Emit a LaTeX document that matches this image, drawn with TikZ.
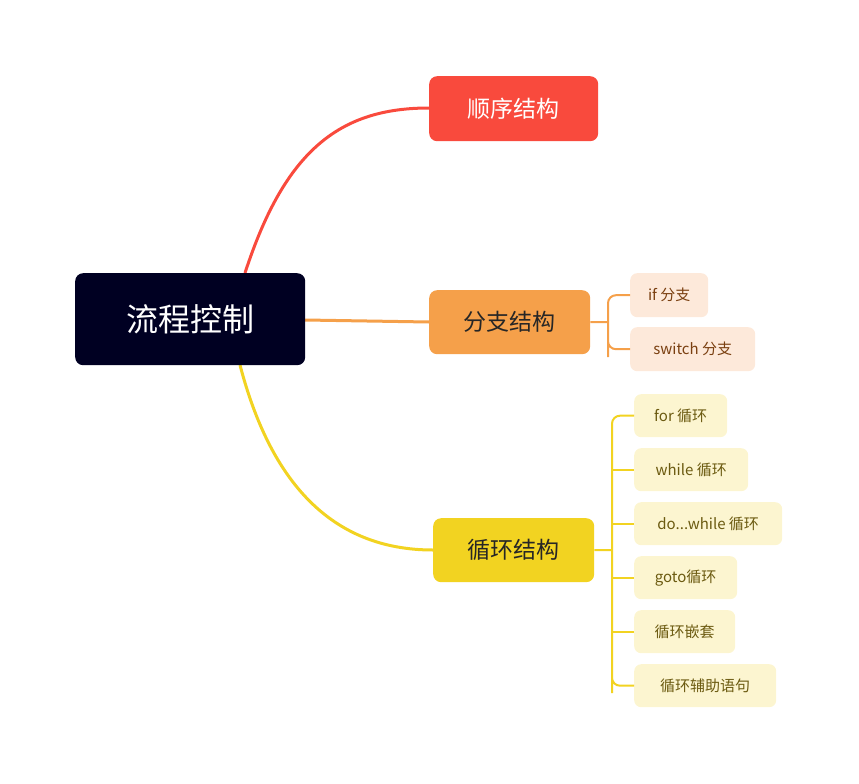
\documentclass[tikz,border=0pt]{standalone}
\usepackage{fontspec}
\setmainfont{Noto Sans CJK SC}
\begin{document}
\begin{tikzpicture}[x=1pt,y=-1pt,
  box/.style={rounded corners=8pt,inner sep=0pt,anchor=north west},
  leafo/.style={box,fill=leafO,text=txtO,font=\fontsize{15}{18}\selectfont,rounded corners=7pt},
  leafy/.style={box,fill=leafY,text=txtY,font=\fontsize{15}{18}\selectfont,rounded corners=7pt}]
\definecolor{rootc}{HTML}{000022}
\definecolor{redc}{HTML}{F94A3D}
\definecolor{orc}{HTML}{F5A04A}
\definecolor{yec}{HTML}{F2D321}
\definecolor{leafO}{HTML}{FDE9DA}
\definecolor{leafY}{HTML}{FCF5D0}
\definecolor{txtO}{HTML}{7A3F10}
\definecolor{txtY}{HTML}{6B5A10}
\useasboundingbox (0,0) rectangle (859,784);
% connectors (drawn first)
\coordinate (rt) at (245,273);
\coordinate (rb) at (240,365);
\draw[redc,line width=3pt] (rt) .. controls (285,150) and (340,108) .. (429,108);
\draw[orc,line width=3pt] (305,320) -- (429,322);
\draw[yec,line width=3pt] (rb) .. controls (270,480) and (330,550) .. (433,550);
% nodes
\node[box,fill=rootc,text=white,minimum width=230pt,minimum height=92pt,font=\fontsize{32}{36}\selectfont] (root) at (75,273) {流程控制};
\node[box,fill=redc,text=white,minimum width=169pt,minimum height=65pt,font=\fontsize{23}{28}\selectfont] (s) at (429,76) {顺序结构};
\node[box,fill=orc,text=black!85,minimum width=161pt,minimum height=64pt,font=\fontsize{23}{28}\selectfont] (b) at (429,290) {分支结构};
\node[box,fill=yec,text=black!85,minimum width=161pt,minimum height=64pt,font=\fontsize{23}{28}\selectfont] (l) at (433,518) {循环结构};
\node[leafo,minimum width=78pt,minimum height=44pt] (b1) at (630,273) {if 分支};
\node[leafo,minimum width=125pt,minimum height=44pt] (b2) at (630,327) {switch 分支};
\node[leafy,minimum width=93pt,minimum height=43pt] (l1) at (634,394) {for 循环};
\node[leafy,minimum width=114pt,minimum height=43pt] (l2) at (634,448) {while 循环};
\node[leafy,minimum width=148pt,minimum height=43pt] (l3) at (634,502) {do...while 循环};
\node[leafy,minimum width=103pt,minimum height=43pt] (l4) at (634,556) {goto循环};
\node[leafy,minimum width=101pt,minimum height=43pt] (l5) at (634,610) {循环嵌套};
\node[leafy,minimum width=142pt,minimum height=43pt] (l6) at (634,664) {循环辅助语句};
% brackets
\draw[orc,line width=2pt] (b.east) -- (608,322);
\draw[orc,line width=2pt,rounded corners=8pt] (b1.west) -| (608,349) |- (b2.west);
\draw[yec,line width=2pt] (l.east) -- (612,550);
\draw[yec,line width=2pt,rounded corners=8pt] (l1.west) -| (612,685) |- (l6.west);
\foreach \n in {l2,l3,l4,l5}{\draw[yec,line width=2pt] (612,0 |- \n.west) -- (\n.west);}
\end{tikzpicture}
\end{document}
